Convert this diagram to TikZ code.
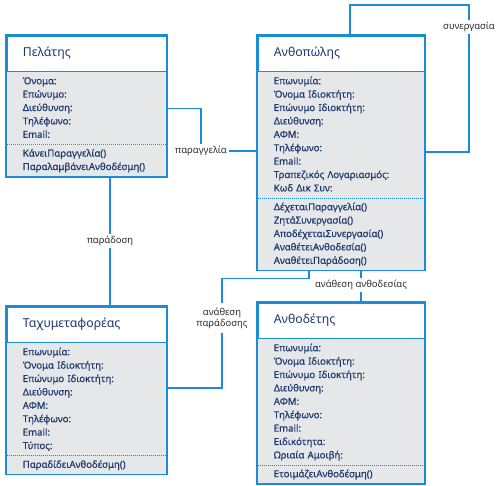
\documentclass[tikz,border=0pt]{standalone}
\usepackage{fontspec}
\setmainfont{Noto Sans}
\newfontfamily\umlpartfont{Noto Sans}[FakeBold=0.5]
\usetikzlibrary{positioning}
\definecolor{umlblue}{RGB}{27,141,214}
\definecolor{umlnavy}{RGB}{30,56,110}
\definecolor{umlgray}{RGB}{230,231,233}
\definecolor{labelgray}{RGB}{45,45,45}

\begin{document}
\begin{tikzpicture}[x=1pt, y=-1pt,
    classname/.style ={draw=umlblue, line width=1.6pt, fill=white, anchor=north west, text=umlnavy,
      font=\fontsize{12.3}{15}\selectfont, text width=#1, minimum height=35.5pt, inner xsep=16pt, align=left},
    classpart/.style ={fill=umlgray, text=umlnavy, font=\umlpartfont\fontsize{9.6}{13.4}\selectfont, text width=#1,
      inner xsep=16pt, inner ysep=2.5pt, align=left, execute at begin node=\strut, execute at end node=\strut},
    assoc/.style ={draw=umlblue, line width=1.6pt},
    assoclabel/.style ={text=labelgray, font=\fontsize{9.5}{11}\selectfont, inner sep=2pt, align=center}]
   \useasboundingbox (0,0) rectangle (500,485);
   % classes
   \node[classname=128pt] (pelatis) at (6,35) {Πελάτης};
   \node[classpart=128pt, below=0pt of pelatis] (pelatis-a) {Όνομα:\\Επώνυμο:\\Διεύθυνση:\\Τηλέφωνο:\\Email:};
   \node[classpart=128pt, below=0pt of pelatis-a] (pelatis-m) {ΚάνειΠαραγγελία()\\ΠαραλαμβάνειΑνθοδέσμη()};
   \node[classname=135pt] (anthopolis) at (257,35) {Ανθοπώλης};
   \node[classpart=135pt, below=0pt of anthopolis] (anthopolis-a) {Επωνυμία:\\Όνομα Ιδιοκτήτη:\\Επώνυμο Ιδιοκτήτη:\\Διεύθυνση:\\ΑΦΜ:\\Τηλέφωνο:\\Email:\\Τραπεζικός Λογαριασμός:\\Κωδ Δικ Συν:};
   \node[classpart=135pt, below=0pt of anthopolis-a] (anthopolis-m) {ΔέχεταιΠαραγγελία()\\ΖητάΣυνεργασία()\\ΑποδέχεταιΣυνεργασία()\\ΑναθέτειΑνθοδεσία()\\ΑναθέτειΠαράδοση()};
   \node[classname=128pt] (taxy) at (6,306) {Ταχυμεταφορέας};
   \node[classpart=128pt, below=0pt of taxy] (taxy-a) {Επωνυμία:\\Όνομα Ιδιοκτήτη:\\Επώνυμο Ιδιοκτήτη:\\Διεύθυνση:\\ΑΦΜ:\\Τηλέφωνο:\\Email:\\Τύπος:};
   \node[classpart=128pt, below=0pt of taxy-a] (taxy-m) {ΠαραδίδειΑνθοδέσμη()};
   \node[classname=135pt] (anthodetis) at (257,302) {Ανθοδέτης};
   \node[classpart=135pt, below=0pt of anthodetis] (anthodetis-a) {Επωνυμία:\\Όνομα Ιδιοκτήτη:\\Επώνυμο Ιδιοκτήτη:\\Διεύθυνση:\\ΑΦΜ:\\Τηλέφωνο:\\Email:\\Ειδικότητα:\\Ωριαία Αμοιβή:};
   \node[classpart=135pt, below=0pt of anthodetis-a] (anthodetis-m) {ΕτοιμάζειΑνθοδέσμη()};
   \foreach \c in {pelatis,anthopolis,taxy,anthodetis} {
     \draw[umlblue, line width=1.6pt] (\c.north west) rectangle (\c-m.south east);
     \draw[umlblue, line width=1pt, densely dotted] (\c-a.south west) -- (\c-a.south east);
   }
   % associations
   \node[assoclabel] (paraggelia) at (201,151) {παραγγελία};
   \draw[assoc] (pelatis-a.east) -| (paraggelia.north);
   \draw[assoc] (paraggelia.east) -- (paraggelia.east -| anthopolis-a.west);
   \coordinate (syn-a) at (350,5);
   \coordinate (syn-b) at (469,152);
   \node[assoclabel] (synergasia) at (469,27) {συνεργασία};
   \draw[assoc] (syn-a |- anthopolis.north) -- (syn-a) -| (synergasia.north);
   \draw[assoc] (synergasia.south) -- (syn-b) -- (syn-b -| anthopolis-a.east);
   \node[assoclabel] (anathesi-anth) at (361,285) {ανάθεση ανθοδεσίας};
   \draw[assoc] (anathesi-anth.north) -- (anathesi-anth.north |- anthopolis-m.south);
   \draw[assoc] (anathesi-anth.south) -- (anathesi-anth.south |- anthodetis.north);
   \coordinate (del-a) at (309,278.5);
   \coordinate (del-b) at (222,388);
   \node[assoclabel, inner sep=4pt] (anathesi-par) at (222,318) {ανάθεση\\παράδοσης};
   \draw[assoc] (del-a |- anthopolis-m.south) -- (del-a) -| (anathesi-par.north);
   \draw[assoc] (anathesi-par.south) -- (del-b) -- (del-b -| taxy-a.east);
   \node[assoclabel] (paradosi) at (110,241) {παράδοση};
   \draw[assoc] (paradosi.north) -- (paradosi.north |- pelatis-m.south);
   \draw[assoc] (paradosi.south) -- (paradosi.south |- taxy.north);
 \end{tikzpicture}
\end{document}
